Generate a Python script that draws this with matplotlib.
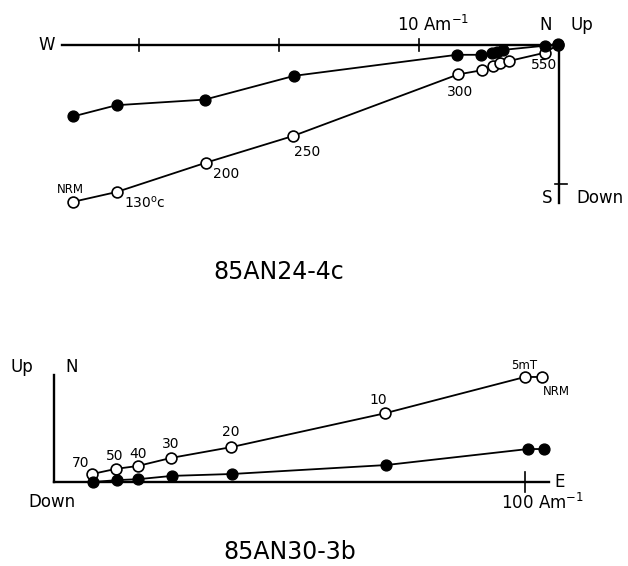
import matplotlib
matplotlib.use("Agg")
import matplotlib.pyplot as plt

# ---- 85AN24-4c (thermal), units Am^-1, x = E(+)/W(-), y = N,Up(+)/S,Down(-)
top_steps = ["NRM", "130", "200", "250", "300", "350", "400", "450", "500", "550", "600"]
top_h_x = [-34.7, -31.6, -25.3, -18.9, -7.3, -5.6, -4.8, -4.4, -4.0, -1.0, -0.1]
top_h_y = [-5.1, -4.3, -3.9, -2.2, -0.7, -0.7, -0.6, -0.5, -0.35, -0.05, 0.05]
top_v_x = [-34.7, -31.6, -25.2, -19.0, -7.2, -5.5, -4.7, -4.2, -3.6, -1.0, -0.1]
top_v_y = [-11.2, -10.5, -8.4, -6.5, -2.1, -1.8, -1.5, -1.3, -1.15, -0.55, 0.0]
top_ticks = [-10, -20, -30]

# ---- 85AN30-3b (AF), units Am^-1, x = E, y = N / Up
bot_steps = ["NRM", "5mT", "10", "20", "30", "40", "50", "70"]
bot_v_x = [103.6, 100.0, 70.3, 37.6, 24.8, 17.8, 13.2, 8.1]
bot_v_y = [22.3, 22.3, 14.6, 7.4, 5.1, 3.4, 2.8, 1.7]
bot_h_x = [104.0, 100.6, 70.5, 37.8, 25.1, 17.9, 13.4, 8.3]
bot_h_y = [7.0, 7.0, 3.6, 1.7, 1.3, 0.6, 0.4, 0.0]

W, H = 628, 566
fig = plt.figure(figsize=(W / 100, H / 100), dpi=100)

def make_ax(py0, py1, ox, oy, scale):
    # axes spanning full width, pixel rows py0..py1, origin at pixel (ox, oy)
    ax = fig.add_axes([0, 1 - py1 / H, 1, (py1 - py0) / H])
    ax.set_xlim(-ox / scale, (W - ox) / scale)
    ax.set_ylim((oy - py1) / scale, (oy - py0) / scale)
    ax.axis("off")
    return ax

lw = 1.3
ms = 7.8
fs_ax = 12
fs_lab = 10

# ================= top diagram =================
ax = make_ax(0, 240, 559, 45, 14.0)
ax.plot([-35.5, 0], [0, 0], color="k", lw=1.7)
ax.plot([0, 0], [0, -11.3], color="k", lw=1.7)
for t in top_ticks:
    ax.plot([t, t], [-0.43, 0.43], color="k", lw=1.2)
ax.plot([-0.3, 0.6], [-9.9, -9.9], color="k", lw=1.2)

ax.plot(top_v_x, top_v_y, "-o", color="k", lw=lw, ms=ms, mfc="white", mec="k", mew=1.2, zorder=2)
ax.plot(top_h_x, top_h_y, "-o", color="k", lw=lw, ms=ms, mfc="k", mec="k", zorder=3)

ax.text(-36.0, 0, "W", ha="right", va="center", fontsize=fs_ax)
ax.text(-9.0, 1.45, "10 Am$^{-1}$", ha="center", va="center", fontsize=fs_ax)
ax.text(-0.95, 1.45, "N", ha="center", va="center", fontsize=fs_ax)
ax.text(1.65, 1.45, "Up", ha="center", va="center", fontsize=fs_ax)
ax.text(-0.85, -10.9, "S", ha="center", va="center", fontsize=fs_ax)
ax.text(2.95, -10.9, "Down", ha="center", va="center", fontsize=fs_ax)

top_lbl = {0: ("NRM", (-3, 12), 8.5),
           1: ("130$^{\\mathrm{o}}$c", (28, -11), fs_lab),
           2: ("200", (20, -11), fs_lab),
           3: ("250", (14, -16), fs_lab),
           4: ("300", (2, -18), fs_lab),
           9: ("550", (-1, -12), fs_lab)}
for i, (s, off, fs) in top_lbl.items():
    ax.annotate(s, (top_v_x[i], top_v_y[i]), xytext=off, textcoords="offset pixels",
                ha="center", va="center", fontsize=fs)

fig.text(279 / W, 1 - 272 / H, "85AN24-4c", ha="center", va="center", fontsize=17)

# ================= bottom diagram =================
ax2 = make_ax(330, 566, 54, 482, 4.71)
ax2.plot([0, 105], [0, 0], color="k", lw=1.7)
ax2.plot([0, 0], [0, 22.7], color="k", lw=1.7)
ax2.plot([100, 100], [-2.1, 2.1], color="k", lw=1.2)

ax2.plot(bot_v_x, bot_v_y, "-o", color="k", lw=lw, ms=ms, mfc="white", mec="k", mew=1.2, zorder=2)
ax2.plot(bot_h_x, bot_h_y, "-o", color="k", lw=lw, ms=ms, mfc="k", mec="k", zorder=3)

ax2.text(-6.8, 24.4, "Up", ha="center", va="center", fontsize=fs_ax)
ax2.text(3.8, 24.4, "N", ha="center", va="center", fontsize=fs_ax)
ax2.text(-0.4, -4.2, "Down", ha="center", va="center", fontsize=fs_ax)
ax2.text(107.4, 0, "E", ha="center", va="center", fontsize=fs_ax)
ax2.text(103.6, -4.5, "100 Am$^{-1}$", ha="center", va="center", fontsize=fs_ax)

bot_off = [(14, -15), (-1, 11), (-7, 13), (0, 15), (0, 14), (0, 12), (-1, 13), (-12, 11)]
for i, s in enumerate(bot_steps):
    fs = 8.5 if s in ("NRM", "5mT") else fs_lab
    ax2.annotate(s, (bot_v_x[i], bot_v_y[i]), xytext=bot_off[i], textcoords="offset pixels",
                 ha="center", va="center", fontsize=fs)

fig.text(290 / W, 1 - 552 / H, "85AN30-3b", ha="center", va="center", fontsize=17)

fig.savefig("out.png", dpi=100)
